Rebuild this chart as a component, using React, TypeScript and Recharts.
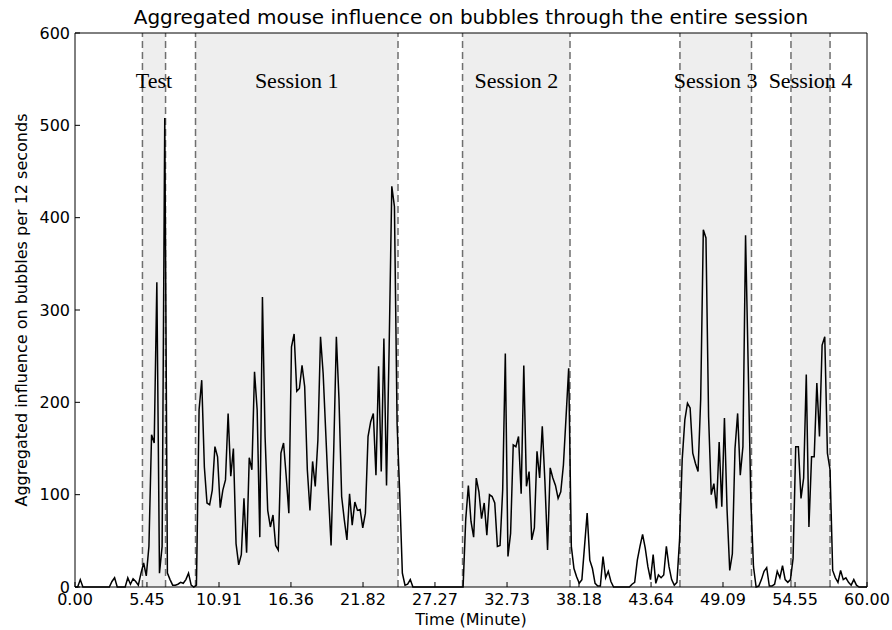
import { LineChart, Line, XAxis, YAxis, ReferenceArea, ReferenceLine } from 'recharts';

// aggregated influence, one value per 12 s (0.2 min), minute by minute
const influence = [
  0, 0, 8, 0, 0, // 0
  0, 0, 0, 0, 0, // 1
  0, 0, 0, 0, 6, // 2
  10, 0, 0, 0, 0, // 3
  10, 3, 9, 6, 2, // 4
  15, 26, 12, 44, 165, // 5
  156, 330, 15, 44, 508, // 6
  15, 8, 2, 2, 3, // 7
  5, 4, 8, 15, 2, // 8
  0, 2, 192, 224, 130, // 9
  91, 89, 105, 152, 141, // 10
  86, 105, 116, 188, 120, // 11
  150, 47, 24, 35, 96, // 12
  37, 140, 127, 233, 192, // 13
  54, 314, 163, 83, 65, // 14
  78, 45, 40, 145, 156, // 15
  120, 80, 260, 274, 212, // 16
  215, 240, 217, 127, 83, // 17
  136, 109, 159, 271, 231, // 18
  166, 101, 45, 148, 271, // 19
  203, 98, 73, 51, 101, // 20
  67, 92, 83, 84, 64, // 21
  80, 163, 179, 188, 121, // 22
  239, 125, 269, 110, 260, // 23
  434, 412, 177, 101, 15, // 24
  2, 3, 8, 0, 0, // 25
  0, 0, 0, 0, 0, // 26
  0, 0, 0, 0, 0, // 27
  0, 0, 0, 0, 0, // 28
  0, 0, 0, 73, 110, // 29
  71, 54, 118, 103, 74, // 30
  91, 56, 100, 98, 91, // 31
  44, 45, 105, 253, 33, // 32
  58, 154, 152, 163, 101, // 33
  240, 109, 125, 51, 64, // 34
  147, 118, 174, 114, 40, // 35
  129, 118, 110, 96, 103, // 36
  132, 184, 237, 44, 20, // 37
  11, 4, 8, 44, 80, // 38
  29, 20, 4, 1, 1, // 39
  33, 10, 17, 6, 0, // 40
  0, 0, 0, 0, 0, // 41
  0, 3, 5, 29, 44, // 42
  57, 42, 22, 8, 35, // 43
  4, 13, 10, 13, 44, // 44
  22, 8, 2, 5, 51, // 45
  138, 181, 199, 194, 145, // 46
  134, 125, 203, 387, 378, // 47
  184, 100, 112, 85, 157, // 48
  87, 183, 83, 18, 36, // 49
  150, 188, 121, 152, 381, // 50
  239, 94, 22, 0, 1, // 51
  8, 17, 21, 1, 1, // 52
  3, 17, 10, 23, 8, // 53
  5, 8, 31, 152, 152, // 54
  96, 118, 230, 65, 141, // 55
  141, 221, 163, 262, 271, // 56
  145, 127, 18, 10, 5, // 57
  18, 8, 10, 5, 2, // 58
  8, 2, 0, 0, 0, // 59
  0,
];

const sessionNames = ['Test', 'Session 1', 'Session 2', 'Session 3', 'Session 4'];
const sessionStarts = [5.11, 9.13, 29.36, 45.83, 54.24];
const sessionEnds = [6.86, 24.47, 37.5, 51.25, 57.2];

const xTickLabels = ['0.00', '5.45', '10.91', '16.36', '21.82', '27.27', '32.73', '38.18', '43.64', '49.09', '54.55', '60.00'];
const yTicks = [0, 100, 200, 300, 400, 500, 600];

const data = influence.map((v, i) => ({ t: i * 0.2, v }));
const xTicks = xTickLabels.map(Number);

const font = 'DejaVu Sans';
const tickStyle = { fill: '#000', fontSize: 16, fontFamily: font };

export default function App() {
  return (
    <div style={{ position: 'absolute', left: 0, top: 0 }}>
      <LineChart width={892} height={630} data={data} margin={{ top: 28, right: 20, bottom: 3, left: 15 }}>
        {sessionNames.map((name, i) => (
          <ReferenceArea
            key={name}
            x1={sessionStarts[i]}
            x2={sessionEnds[i]}
            fill="#eeeeee"
            fillOpacity={1}
            stroke="none"
            label={{ value: name, position: 'insideTop', offset: 39, fill: '#000', fontSize: 22, fontFamily: 'Liberation Serif' }}
          />
        ))}
        {[...sessionStarts, ...sessionEnds].map((x) => (
          <ReferenceLine key={x} x={x} stroke="#6f6f6f" strokeWidth={1.5} strokeDasharray="7 4" />
        ))}
        <XAxis
          dataKey="t"
          type="number"
          domain={[0, 60]}
          ticks={xTicks}
          interval={0}
          tickFormatter={(v: number) => v.toFixed(2)}
          height={40}
          tickSize={-5}
          tickMargin={12}
          tick={tickStyle}
          axisLine={{ stroke: '#000' }}
          tickLine={{ stroke: '#000' }}
          label={{ value: 'Time (Minute)', position: 'insideBottom', offset: 2, fill: '#000', fontSize: 16, fontFamily: font }}
        />
        <XAxis
          xAxisId="top"
          orientation="top"
          type="number"
          domain={[0, 60]}
          ticks={xTicks}
          interval={0}
          height={5}
          tickSize={-5}
          tick={false}
          axisLine={{ stroke: '#000' }}
          tickLine={{ stroke: '#000' }}
          label={{ value: 'Aggregated mouse influence on bubbles through the entire session', position: 'top', offset: 4, fill: '#000', fontSize: 20, fontFamily: font }}
        />
        <YAxis
          type="number"
          domain={[0, 600]}
          ticks={yTicks}
          interval={0}
          width={60}
          tickSize={-5}
          tickMargin={10}
          tick={tickStyle}
          axisLine={{ stroke: '#000' }}
          tickLine={{ stroke: '#000' }}
          label={{
            content: (props: any) => {
              const vb = props.viewBox || { y: 33, height: 554 };
              const cy = vb.y + vb.height / 2;
              return (
                <text x={27} y={cy} transform={`rotate(-90, 27, ${cy})`} textAnchor="middle" fill="#000" fontSize={16} fontFamily={font}>
                  Aggregated influence on bubbles per 12 seconds
                </text>
              );
            },
          }}
        />
        <YAxis
          yAxisId="right"
          orientation="right"
          type="number"
          domain={[0, 600]}
          ticks={yTicks}
          interval={0}
          width={5}
          tickSize={-5}
          tick={false}
          axisLine={{ stroke: '#000' }}
          tickLine={{ stroke: '#000' }}
        />
        <Line type="linear" dataKey="v" stroke="#000" strokeWidth={1.5} dot={false} isAnimationActive={false} />
      </LineChart>
    </div>
  );
}
